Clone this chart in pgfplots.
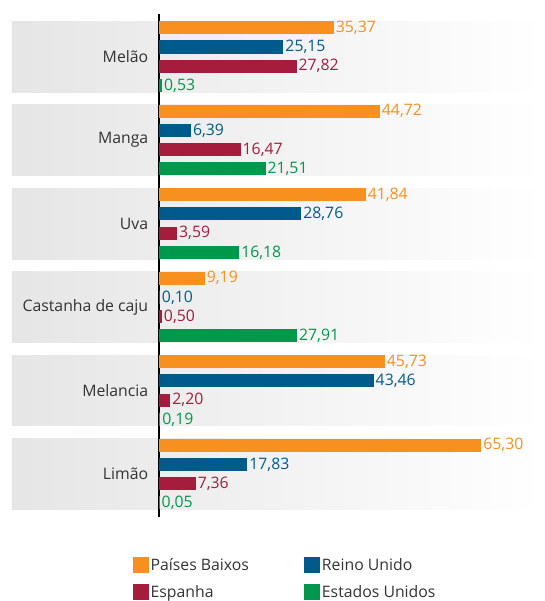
\documentclass[border=0pt]{standalone}
\usepackage{fontspec}
\setmainfont{Open Sans}
\usepackage{pgfplots}
\pgfplotsset{compat=1.18}

\definecolor{cOrange}{HTML}{F7901E}
\definecolor{cBlue}{HTML}{005B8C}
\definecolor{cRed}{HTML}{A51C3C}
\definecolor{cGreen}{HTML}{00984A}
\definecolor{cText}{HTML}{333333}

% y = group index (0 = Melão, top) + offset of the bar in the group
\begin{document}
\begin{tikzpicture}
\begin{axis}[
    set layers,
    scale only axis,
    width=385pt, height=503pt,
    xbar, bar shift=0pt, bar width=0.145,
    xmin=0, xmax=78.1,
    ymin=-0.51, ymax=5.515,
    y dir=reverse,
    axis x line=none,
    axis y line*=left,
    y axis line style={black, line width=1.1pt, -},
    ytick={0,1,2,3,4,5},
    yticklabels={Melão,Manga,Uva,Castanha de caju,Melancia,Limão},
    ytick style={draw=none},
    yticklabel style={font=\fontsize{15.8}{17}\selectfont, text=cText, xshift=-3pt},
    clip=false,
    nodes near coords={\pgfmathprintnumber[fixed, fixed zerofill, precision=2, use comma]{\pgfplotspointmeta}},
    every node near coord/.append style={font=\fontsize{15.8}{17}\selectfont, inner xsep=2pt},
    /pgf/number format/assume math mode=true,
    legend columns=2,
    legend cell align=left,
    legend style={at={(axis description cs:-0.077,-0.074)}, anchor=north west,
        draw=none, fill=none, font=\fontsize{15.8}{17}\selectfont, text=cText,
        row sep=9.5pt,
        /tikz/every even column/.append style={column sep=53pt}},
    legend image code/.code={\fill[#1] (0pt,-7.5pt) rectangle (15pt,7.5pt);},
]
\begin{pgfonlayer}{axis background}
\fill[left color=black!10, right color=white] ([xshift=-147pt]axis cs:0,-0.425) rectangle (axis cs:78.1,0.425);
\fill[left color=black!10, right color=white] ([xshift=-147pt]axis cs:0,0.575) rectangle (axis cs:78.1,1.425);
\fill[left color=black!10, right color=white] ([xshift=-147pt]axis cs:0,1.575) rectangle (axis cs:78.1,2.425);
\fill[left color=black!10, right color=white] ([xshift=-147pt]axis cs:0,2.575) rectangle (axis cs:78.1,3.425);
\fill[left color=black!10, right color=white] ([xshift=-147pt]axis cs:0,3.575) rectangle (axis cs:78.1,4.425);
\fill[left color=black!10, right color=white] ([xshift=-147pt]axis cs:0,4.575) rectangle (axis cs:78.1,5.425);
\end{pgfonlayer}

\addplot[draw=cOrange, line width=1pt, fill=cOrange, every node near coord/.append style={text=cOrange}]
coordinates {(35.37,-0.345) (44.72,0.655) (41.84,1.655) (9.19,2.655) (45.73,3.655) (65.30,4.655)};
\addlegendentry{Países Baixos}
\addplot[draw=cBlue, line width=1pt, fill=cBlue, every node near coord/.append style={text=cBlue}]
coordinates {(25.15,-0.115) (6.39,0.885) (28.76,1.885) (0.10,2.885) (43.46,3.885) (17.83,4.885)};
\addlegendentry{Reino Unido}
\addplot[draw=cRed, line width=1pt, fill=cRed, every node near coord/.append style={text=cRed}]
coordinates {(27.82,0.115) (16.47,1.115) (3.59,2.115) (0.50,3.115) (2.20,4.115) (7.36,5.115)};
\addlegendentry{Espanha}
\addplot[draw=cGreen, line width=1pt, fill=cGreen, every node near coord/.append style={text=cGreen}]
coordinates {(0.53,0.345) (21.51,1.345) (16.18,2.345) (27.91,3.345) (0.19,4.345) (0.05,5.345)};
\addlegendentry{Estados Unidos}
\end{axis}
\pgfresetboundingbox
\useasboundingbox (-159pt,-84pt) rectangle (385pt,517pt);
\end{tikzpicture}
\end{document}
